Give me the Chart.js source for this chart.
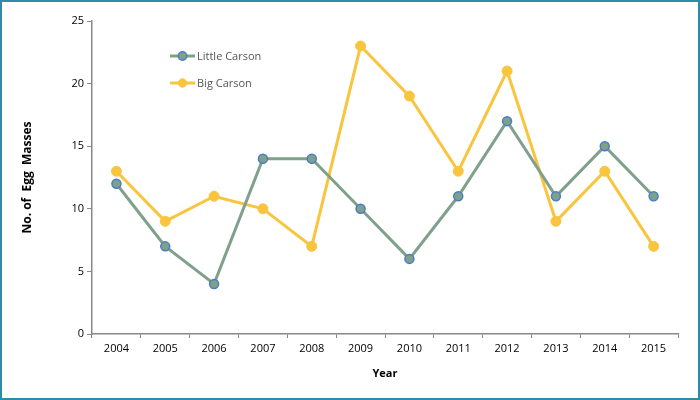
<!DOCTYPE html>
<html><head><meta charset="utf-8">
<script src="https://cdn.jsdelivr.net/npm/chart.js@4"></script>
<style>
html,body{margin:0;padding:0;background:#fff;}
#wrap{width:700px;height:400px;box-sizing:border-box;border:2px solid #2f8ca8;position:relative;}
canvas{display:block;}
</style></head><body>
<div id="wrap"><canvas id="c" width="696" height="396"></canvas></div>
<script>
const years = ["2004","2005","2006","2007","2008","2009","2010","2011","2012","2013","2014","2015"];
const littleCarson = [12,7,4,14,14,10,6,11,17,11,15,11];
const bigCarson = [13,9,11,10,7,23,19,13,21,9,13,7];
const seriesNames = ["Little Carson","Big Carson"];

const FONT = "'Open Sans', 'Liberation Sans', sans-serif";
const legendPlugin = {
  id:'inLegend',
  afterDraw(chart){
    const ctx = chart.ctx;
    const items = [[chart.data.datasets[0], 54],[chart.data.datasets[1], 81]];
    ctx.save();
    items.forEach(([ds,y])=>{
      ctx.strokeStyle = ds.borderColor; ctx.lineWidth = 3;
      ctx.beginPath(); ctx.moveTo(168,y); ctx.lineTo(193,y); ctx.stroke();
      ctx.beginPath(); ctx.arc(180.5,y,4.2,0,Math.PI*2);
      ctx.fillStyle = ds.pointBackgroundColor; ctx.fill();
      ctx.lineWidth = ds.pointBorderWidth; ctx.strokeStyle = ds.pointBorderColor; ctx.stroke();
      ctx.fillStyle = '#555'; ctx.font = "11px " + FONT; ctx.textBaseline='middle';
      ctx.fillText(ds.label, 195, y+0.5);
    });
    ctx.restore();
  }
};

new Chart(document.getElementById('c'),{
  type:'line',
  data:{labels:years,datasets:[
    {label:seriesNames[0],data:littleCarson,borderColor:'#7fa08b',borderWidth:3,
     pointBackgroundColor:'#7fa08b',pointBorderColor:'#4a7ec4',pointBorderWidth:1.5,pointRadius:4.5,tension:0},
    {label:seriesNames[1],data:bigCarson,borderColor:'#f9c53f',borderWidth:3,
     pointBackgroundColor:'#f9c53f',pointBorderColor:'#f9c53f',pointBorderWidth:1,pointRadius:5,tension:0}
  ]},
  options:{
    responsive:false,animation:false,
    layout:{padding:{left:0,top:19,right:20,bottom:0}},
    plugins:{legend:{display:false},tooltip:{enabled:false}},
    scales:{
      x:{offset:true,
        grid:{offset:true,drawOnChartArea:false,drawTicks:true,tickLength:4,color:'#888',tickWidth:1},
        border:{color:'#888',width:1.5},
        ticks:{color:'#000',font:{family:FONT,size:11},padding:4,maxRotation:0},
        title:{display:true,text:'Year',color:'#000',font:{family:FONT,size:11,weight:'bold'},padding:{top:0,bottom:18}},
        afterFit(s){s.height=64;}
      },
      y:{min:0,max:25,
        grid:{drawOnChartArea:false,tickLength:5,color:'#888'},
        border:{color:'#888',width:1.5},
        ticks:{stepSize:5,color:'#000',font:{family:FONT,size:11},padding:3},
        title:{display:true,text:'No. of  Egg  Masses',color:'#000',font:{family:FONT,size:12,weight:'bold'},padding:{top:18}},
        afterFit(s){s.width=90;}
      }
    }
  },
  plugins:[legendPlugin]
});
</script></body></html>
